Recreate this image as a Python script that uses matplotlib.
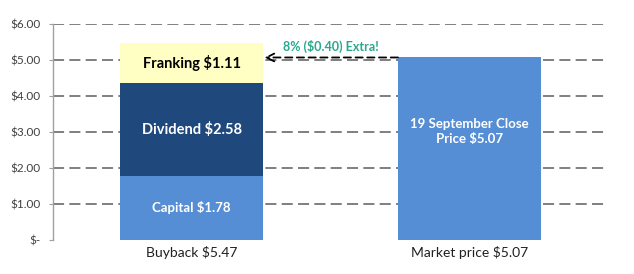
import matplotlib
matplotlib.use("Agg")
import matplotlib.pyplot as plt

plt.rcParams['font.family'] = ['Lato', 'DejaVu Sans']

categories = ["Buyback $5.47", "Market price $5.07"]
capital = [1.78]
dividend = [2.58]
franking = [1.11]
market_price = [5.07]
extra_label = "8% ($0.40) Extra!"
y_ticks = [0, 1, 2, 3, 4, 5, 6]

col_capital = "#558ed5"
col_dividend = "#1f497d"
col_franking = "#ffffc4"
col_market = "#558ed5"
col_extra = "#2aa88e"

fig = plt.figure(figsize=(6.34, 2.74), dpi=100)
ax = fig.add_axes([53 / 634, 34 / 274, (608 - 53) / 634, 216 / 274])

width = 0.514
x0, x1 = 0, 1

# Horizontal dashed gridlines behind the bars
for v in y_ticks[1:]:
    ax.axhline(v, color="#7f7f7f", lw=1.4, ls=(0, (5.7, 2.7)), zorder=0)

# Stacked buyback bar
ax.bar(x0, capital[0], width, color=col_capital, zorder=2)
ax.bar(x0, dividend[0], width, bottom=capital[0], color=col_dividend, zorder=2)
ax.bar(x0, franking[0], width, bottom=capital[0] + dividend[0],
       color=col_franking, zorder=2)

# Market price bar
ax.bar(x1, market_price[0], width, color=col_market, zorder=2)

# Segment labels
ax.text(x0, capital[0] / 2, f"Capital ${capital[0]:.2f}", ha="center",
        va="center", color="white", fontsize=9.5, fontweight="bold", zorder=3)
ax.text(x0, capital[0] + dividend[0] / 2, f"Dividend ${dividend[0]:.2f}",
        ha="center", va="center", color="white", fontsize=10.5,
        fontweight="bold", zorder=3)
ax.text(x0, capital[0] + dividend[0] + franking[0] / 2,
        f"Franking ${franking[0]:.2f}", ha="center", va="center",
        color="black", fontsize=10.5, fontweight="bold", zorder=3)
ax.text(x1, 3.0, f"19 September Close\nPrice ${market_price[0]:.2f}",
        ha="center", va="center", color="white", fontsize=9.5,
        fontweight="bold", linespacing=1.3, zorder=3)

# Arrow from market price to buyback bar
ax.annotate("", xy=(x0 + width / 2 + 0.005, market_price[0]),
            xytext=(x1 - width / 2, market_price[0]),
            arrowprops=dict(arrowstyle="->", color="black", lw=1.3,
                            ls=(0, (4, 2.5)), shrinkA=0, shrinkB=0,
                            mutation_scale=14),
            zorder=4)
ax.text(0.502, market_price[0] + 0.13, extra_label, ha="center", va="bottom",
        color=col_extra, fontsize=9, fontweight="bold", zorder=4)

ax.set_xlim(-0.5, 1.5)
ax.set_ylim(0, 6)
ax.set_yticks(y_ticks)
ax.set_yticklabels(["$-"] + [f"${v:.2f}" for v in y_ticks[1:]])
ax.set_xticks([x0, x1])
ax.set_xticklabels(categories)

for s in ["top", "right", "bottom"]:
    ax.spines[s].set_visible(False)
ax.spines["left"].set_color("#a0a0a0")
ax.spines["left"].set_linewidth(1.0)
ax.tick_params(axis="y", length=3, color="#a0a0a0", labelsize=8.5,
               labelcolor="#404040", pad=6)
ax.tick_params(axis="x", length=0, labelsize=10, labelcolor="#202020", pad=4)

fig.savefig("out.png", dpi=100)
